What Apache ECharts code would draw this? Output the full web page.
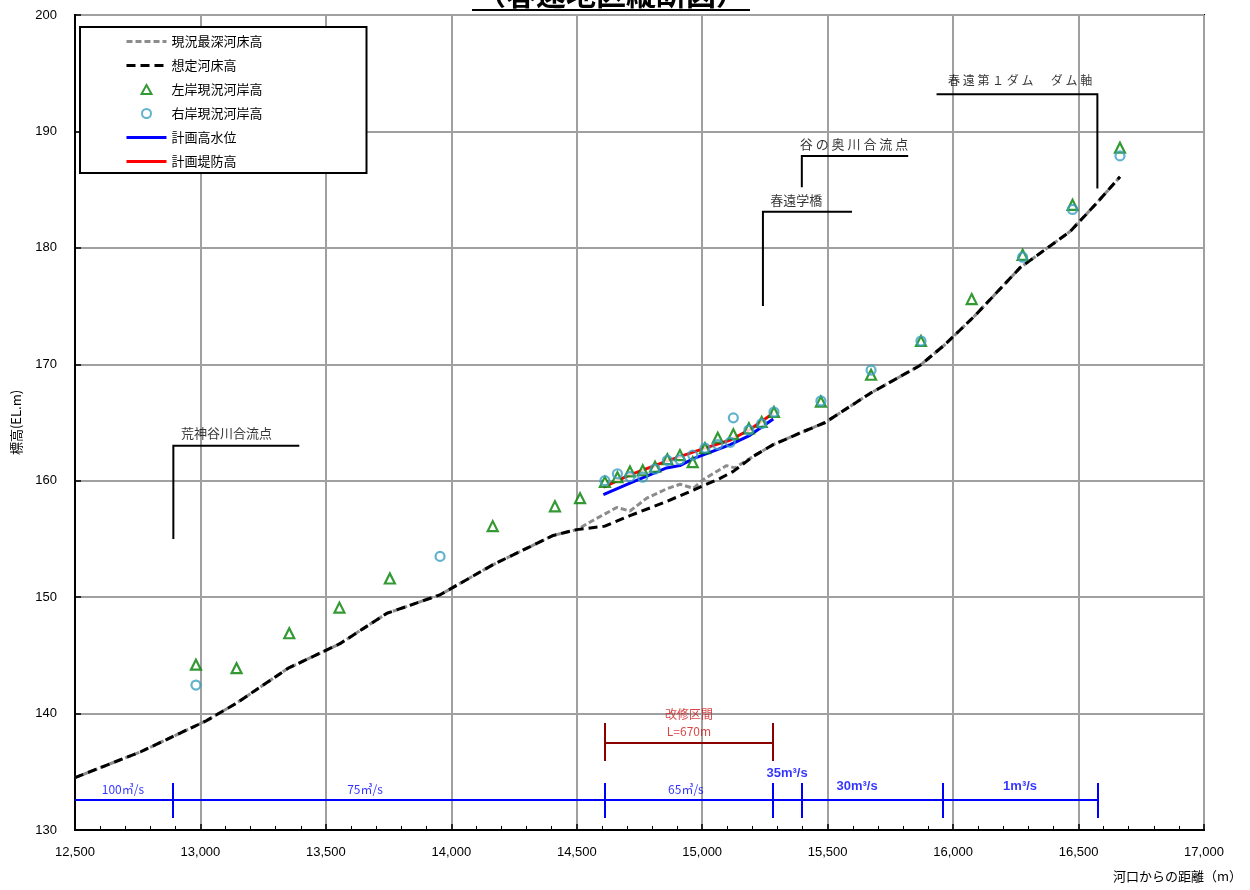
<!DOCTYPE html>
<html><head><meta charset="utf-8">
<script src="https://cdn.jsdelivr.net/npm/echarts@6/dist/echarts.min.js"></script>
<style>html,body{margin:0;padding:0;background:#fff}#c{width:1250px;height:890px}</style>
</head><body><div id="c"></div>
<script>
// ---- data ----
const designBed = [[12500,134.5],[12760,136.7],[13025,139.4],[13144,140.9],[13350,143.9],[13556,146.0],[13742,148.6],[13955,150.2],[14167,152.8],[14406,155.3],[14500,155.8],[14612,156.1],[14712,157.0],[14845,158.1],[14965,159.2],[15071,160.2],[15124,160.8],[15204,162.1],[15283,163.1],[15390,164.1],[15490,165.0],[15669,167.5],[15868,169.9],[15968,171.7],[16088,174.2],[16267,178.3],[16466,181.4],[16566,183.7],[16665,186.1]];
const currentBed = [[12500,134.5],[12760,136.7],[13025,139.4],[13144,140.9],[13350,143.9],[13556,146.0],[13742,148.6],[13955,150.2],[14167,152.8],[14406,155.3],[14500,155.8],[14566,156.6],[14659,157.7],[14712,157.4],[14779,158.5],[14858,159.3],[14912,159.7],[14965,159.35],[15004,160.1],[15097,161.3],[15130,161.1],[15204,162.1],[15283,163.1],[15390,164.1],[15490,165.0],[15669,167.5],[15868,169.9],[15968,171.7],[16088,174.2],[16267,178.3],[16466,181.4],[16566,183.7],[16665,186.1]];
const leftBank = [[12982,144.2],[13144,143.9],[13354,146.9],[13554,149.1],[13755,151.6],[14165,156.1],[14413,157.8],[14513,158.5],[14612,159.9],[14662,160.3],[14712,160.8],[14763,160.9],[14812,161.2],[14861,161.85],[14911,162.2],[14962,161.6],[15011,162.8],[15062,163.7],[15124,164.0],[15186,164.5],[15237,165.05],[15286,165.9],[15473,166.8],[15673,169.1],[15872,172.0],[16074,175.6],[16277,179.4],[16476,183.7],[16665,188.6]];
const rightBank = [[12982,142.45],[13955,153.5],[14612,160.0],[14662,160.6],[14712,160.35],[14763,160.3],[14812,161.0],[14861,161.75],[14911,161.8],[14962,162.2],[15011,162.8],[15062,163.1],[15112,163.3],[15124,165.4],[15186,164.35],[15237,164.9],[15286,165.9],[15473,166.85],[15673,169.5],[15872,172.0],[16277,179.2],[16476,183.3],[16665,187.9]];
const planHWL = [[14606,158.8],[14712,159.8],[14858,161.1],[14911,161.3],[14965,161.9],[15112,163.1],[15190,163.9],[15283,165.3]];
const planLevee = [[14606,159.45],[14712,160.5],[14861,161.7],[15011,162.8],[15112,163.5],[15190,164.4],[15283,165.8]];
const seriesNames = ['現況最深河床高','想定河床高','左岸現況河岸高','右岸現況河岸高','計画高水位','計画堤防高'];
// annotation leader lines (data coordinates)
const annoLines = [
  [[12892,155.0],[12892,163.0],[13394,163.0]],
  [[15242,175.0],[15242,183.1],[15597,183.1]],
  [[15397,185.2],[15397,187.9],[15821,187.9]],
  [[15934,193.2],[16575,193.2],[16575,185.1]]
];
const annoTexts = [
  [13104,164.1,'荒神谷川合流点',13],
  [15375,184.1,'春遠学橋',13],
  [15605,188.95,'谷 の 奥 川 合 流 点',13],
  [16267,194.35,'春 遠 第 １ ダ ム 　 ダ ム 軸',12]
];
// flow-rate bar
const flowY = 132.58;
const flowBreaks = [12890,14610,15282,15398,15960,16575];
const flowLabels = [[12691,133.5,'100㎥/s',false],[13656,133.5,'75㎥/s',false],[14935,133.5,'65㎥/s',false],[15338,134.9,'35m³/s',true],[15617,133.7,'30m³/s',true],[16267,133.7,'1m³/s',true]];
// improvement section
const repairSection = [14610,15282];
const repairY = 137.47;
const repairTexts = [[14947,139.96,'改修区間'],[14947,138.5,'L=670m']];

// ---- build ----
const CJK = '"Noto Sans CJK JP","Noto Sans",sans-serif';
const NUM = '"Liberation Sans",Arial,sans-serif';
const flowSegs = [{coords:[[12500,flowY],[flowBreaks[flowBreaks.length-1],flowY]]}].concat(
  flowBreaks.map(x=>({coords:[[x,134.04],[x,131.03]]})));
const repairSegs = [
  {coords:[[repairSection[0],repairY],[repairSection[1],repairY]]},
  {coords:[[repairSection[0],139.19],[repairSection[0],135.93]]},
  {coords:[[repairSection[1],139.19],[repairSection[1],135.93]]}
];
function textItem(x,y,t,style){return {value:[x,y],label:Object.assign({show:true,position:'inside',formatter:t},style)};}
const textData = []
  .concat(annoTexts.map(a=>textItem(a[0],a[1],a[2],{color:'#000',fontSize:a[3],fontFamily:CJK})))
  .concat(flowLabels.map(f=>textItem(f[0],f[1],f[2],{color:'#0000ff',fontSize:f[3]?13:12,fontWeight:f[3]?'bold':'normal',fontFamily:f[3]?NUM:CJK})))
  .concat(repairTexts.map(r=>textItem(r[0],r[1],r[2],{color:'#d01818',fontSize:12,fontFamily:CJK})));

const TRI = 'path://M5,0 L10,9 L0,9 Z';
const legendData = seriesNames.map((n,i)=> (i===2 ? {name:n, icon:TRI} : (i===3 ? {name:n} : {name:n, itemStyle:{opacity:0}})));

const chart = echarts.init(document.getElementById('c'));
chart.setOption({
  animation:false,
  backgroundColor:'#fff',
  grid:{left:75,right:46,top:15,bottom:60,show:true,borderColor:'#000',borderWidth:2,backgroundColor:'transparent'},
  graphic:[
    {type:'text',x:611,y:9,z:100,style:{text:'（春遠地区縦断図）',textAlign:'center',textVerticalAlign:'bottom',font:'bold 30px '+CJK,fill:'#000'}},
    {type:'line',z:100,shape:{x1:472,y1:10,x2:750,y2:10},style:{stroke:'#000',lineWidth:2}}
  ],
  legend:{
    data:legendData,orient:'vertical',left:80,top:27,
    backgroundColor:'#fff',borderColor:'#000',borderWidth:2,borderRadius:0,
    padding:[8,104,5,45],itemWidth:40,itemHeight:9,itemGap:11,symbolKeepAspect:true,
    lineStyle:{width:3},
    textStyle:{fontSize:13,fontFamily:CJK,color:'#000'}
  },
  xAxis:{
    type:'value',min:12500,max:17000,interval:500,
    axisLine:{show:true,lineStyle:{color:'#000',width:2}},
    axisTick:{show:true,inside:true,length:6,lineStyle:{color:'#000',width:1.5}},
    minorTick:{show:true,splitNumber:5,length:4,lineStyle:{color:'#000',width:1}},
    splitLine:{show:true,lineStyle:{color:'#a0a0a0',width:2}},
    axisLabel:{margin:16,fontSize:13,fontFamily:NUM,color:'#000',formatter:v=>String(v).replace(/\B(?=(\d{3})+(?!\d))/g,',')},
    name:'河口からの距離（m）',nameLocation:'end',nameGap:38,
    nameTextStyle:{align:'right',verticalAlign:'top',padding:[40,0,0,0],fontSize:13,fontFamily:CJK,color:'#000'}
  },
  yAxis:{
    type:'value',min:130,max:200,interval:10,
    axisLine:{show:true,lineStyle:{color:'#000',width:2}},
    axisTick:{show:true,inside:true,length:6,lineStyle:{color:'#000',width:1.5}},
    splitLine:{show:true,lineStyle:{color:'#a0a0a0',width:2}},
    axisLabel:{margin:18,fontSize:13,fontFamily:NUM,color:'#000'},
    name:'標高(EL.m)',nameLocation:'middle',nameGap:52,nameRotate:90,
    nameTextStyle:{fontSize:13,fontFamily:CJK,color:'#000'}
  },
  series:[
    {name:seriesNames[0],type:'line',data:currentBed,symbol:'none',z:3,itemStyle:{color:'#8c8c8c'},lineStyle:{color:'#8c8c8c',width:3,type:[6,3]}},
    {name:seriesNames[1],type:'line',data:designBed,symbol:'none',z:4,itemStyle:{color:'#000'},lineStyle:{color:'#000',width:3,type:[9,5]}},
    {name:seriesNames[4],type:'line',data:planHWL,symbol:'none',z:5,itemStyle:{color:'#0000ff'},lineStyle:{color:'#0000ff',width:3}},
    {name:seriesNames[5],type:'line',data:planLevee,symbol:'none',z:6,itemStyle:{color:'#ff0000'},lineStyle:{color:'#ff0000',width:3}},
    {name:seriesNames[2],type:'scatter',data:leftBank,symbol:'triangle',symbolSize:10,z:7,itemStyle:{color:'#fff',borderColor:'#008000',borderWidth:2.2}},
    {name:seriesNames[3],type:'scatter',data:rightBank,symbol:'circle',symbolSize:9,z:8,itemStyle:{color:'rgba(255,255,255,0)',borderColor:'#3a9fc0',borderWidth:2.2}},
    {type:'lines',coordinateSystem:'cartesian2d',polyline:true,z:9,data:annoLines.map(c=>({coords:c})),lineStyle:{color:'#000',width:2,opacity:1}},
    {type:'lines',coordinateSystem:'cartesian2d',z:9,data:flowSegs,lineStyle:{color:'#0000ff',width:2,opacity:1}},
    {type:'lines',coordinateSystem:'cartesian2d',z:9,data:repairSegs,lineStyle:{color:'#8b0000',width:2,opacity:1}},
    {type:'scatter',data:textData,symbol:'circle',symbolSize:1,z:10,itemStyle:{color:'rgba(0,0,0,0)'},silent:true}
  ]
});
</script></body></html>
